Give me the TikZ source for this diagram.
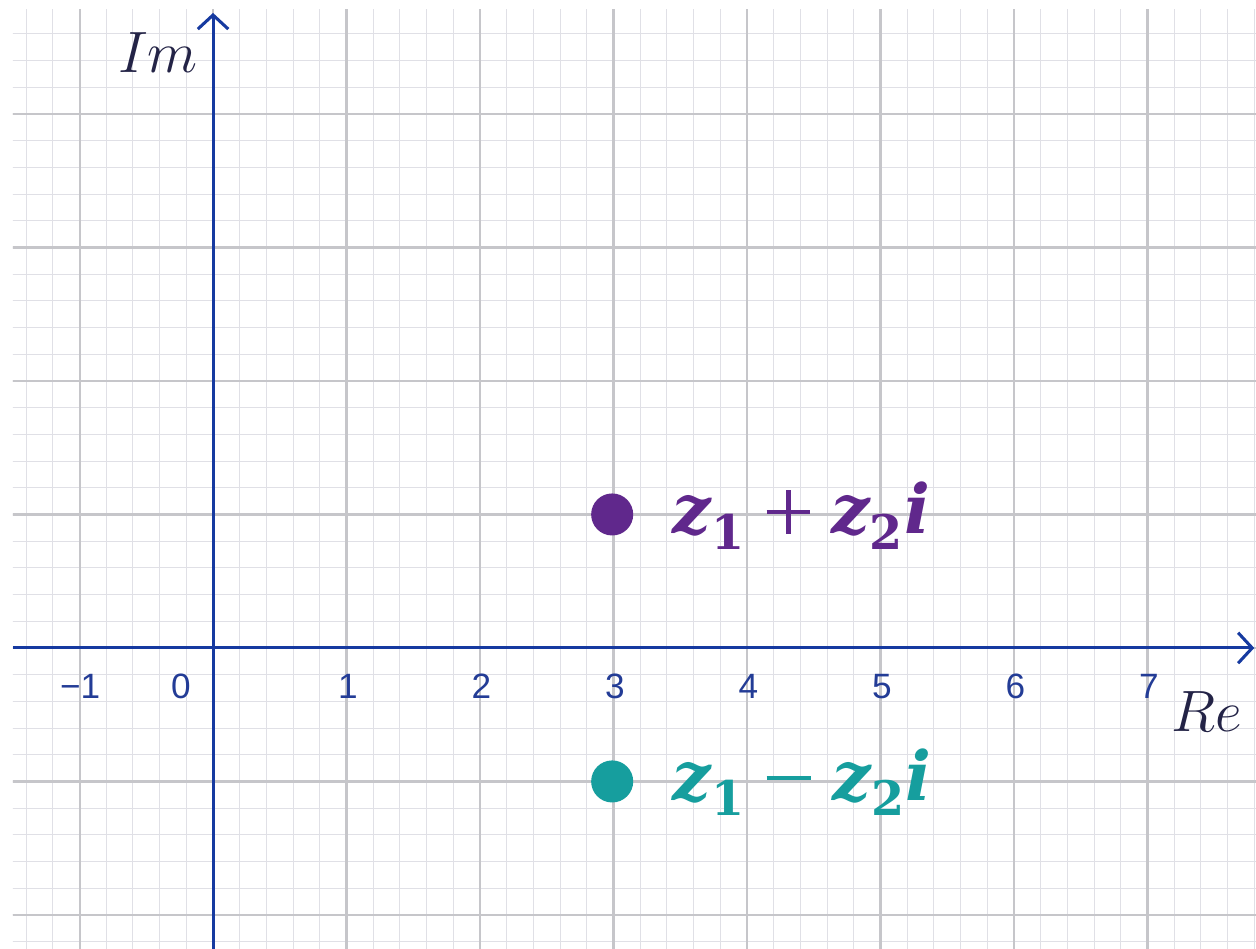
\documentclass[tikz,border=0pt]{standalone}
\usepackage{amsmath}
\usepackage{fontspec}
\newfontfamily\labfont{Liberation Sans}
\newfontfamily\zfont{DejaVu Serif}
\usetikzlibrary{arrows.meta}
\definecolor{axisblue}{RGB}{22,58,160}
\definecolor{ticktext}{RGB}{35,60,150}
\definecolor{axistext}{RGB}{35,35,70}
\definecolor{majorgray}{RGB}{198,198,202}
\definecolor{minorgray}{RGB}{224,224,230}
\definecolor{zpurple}{RGB}{96,40,140}
\definecolor{zteal}{RGB}{22,158,158}
\newcommand\zz{\text{\zfont\bfseries\itshape z}}
\newcommand\zi{\text{\zfont\bfseries\itshape i}}
\newcommand\zd[1]{\text{\zfont\bfseries #1}}
\newcommand\zplus{\mkern1.5mu\mathrel{\rule[8.3pt]{18.5pt}{2pt}\kern-10.25pt\rule[0.05pt]{2pt}{18.5pt}\kern8.25pt}\mkern1.5mu}
\newcommand\zminus{\mkern1.5mu\mathrel{\rule[8.4pt]{19pt}{2pt}}\mkern1.5mu}
\tikzset{
  minorgrid/.style={draw=minorgray, line width=0.45pt},
  majorgrid/.style={draw=majorgray, line width=0.9pt},
  axisline/.style={draw=axisblue, line width=1.3pt, -{Straight Barb[length=6pt,width=13pt,line width=1.3pt]}},
  ticklab/.style={text=ticktext, font=\labfont\fontsize{15}{17}\selectfont, inner sep=0pt, anchor=center},
  axislab/.style={text=axistext, font=\fontsize{25}{30}\selectfont, inner sep=0pt, anchor=center},
  dotmark/.style={circle, inner sep=0pt, minimum size=0.63cm},
  zlab/.style={anchor=base west, inner sep=0pt, font=\fontsize{29}{34}\selectfont}
}
\begin{document}
\begin{tikzpicture}[x=2cm,y=2cm]
\useasboundingbox (-1.596,-2.255) rectangle (7.813,4.854);
\fill[white] (-1.596,-2.255) rectangle (7.813,4.854);
\begin{scope}
  \clip (-1.5,-2.3) rectangle (7.9,4.78);
  \draw[minorgrid, step=0.2] (-1.6,-2.4) grid (7.9,4.8);
  \draw[majorgrid, step=1] (-2,-3) grid (8,5);
\end{scope}
% axes
\coordinate (xs) at (-1.5,0);
\coordinate (xe) at (7.80,0);
\coordinate (ys) at (0,-2.3);
\coordinate (ye) at (0,4.757);
\draw[axisline] (xs) -- (xe);
\draw[axisline] (ys) -- (ye);
% tick labels
\node[ticklab] (tm1) at (-0.995,-0.29) {−1};
\node[ticklab] (t0) at (-0.24,-0.29) {0};
\foreach \k in {1,...,7}{
  \node[ticklab] (t\k) at (\k+0.01,-0.29) {\k};
}
% axis labels
\node[axislab] (im) at (-0.412,4.46) {$Im$};
\node[axislab] (re) at (7.446,-0.48) {$Re$};
% points
\node[dotmark, fill=zpurple] (p1) at (2.99,1) {};
\node[dotmark, fill=zteal] (p2) at (2.99,-1) {};
\node[zlab, text=zpurple] (l1) at (3.44,0.855) {$\zz_{\zd{1}}\zplus\zz_{\zd{2}}\zi$};
\node[zlab, text=zteal] (l2) at (3.44,-1.14) {$\zz_{\zd{1}}\zminus\zz_{\zd{2}}\zi$};
\end{tikzpicture}
\end{document}
